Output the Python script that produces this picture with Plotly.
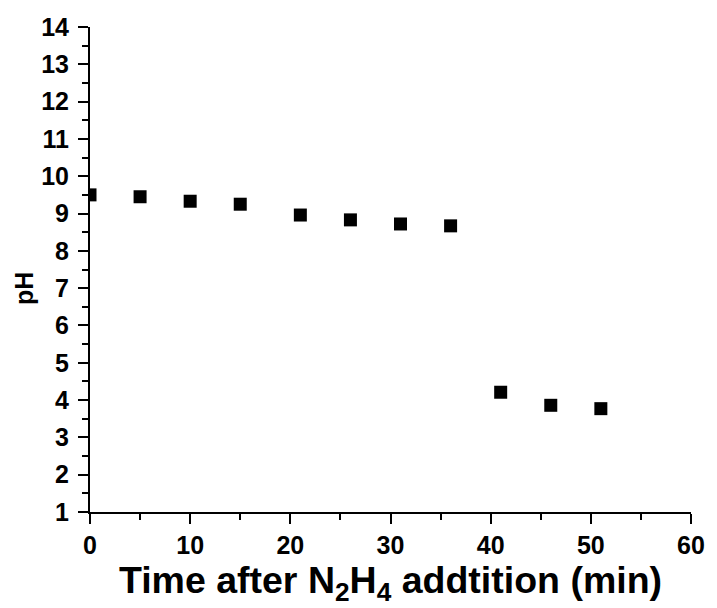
import plotly.graph_objects as go

time_min = [0, 5, 10, 15, 21, 26, 31, 36, 41, 46, 51]
ph_values = [9.5, 9.45, 9.33, 9.25, 8.96, 8.83, 8.72, 8.67, 4.21, 3.86, 3.77]

x_title = "Time after N<sub>2</sub>H<sub>4</sub> addtition (min)"
y_title = "pH"

FONT = "Arial, 'Liberation Sans', sans-serif"

fig = go.Figure()
fig.add_trace(go.Scatter(
    x=time_min, y=ph_values, mode="markers",
    marker=dict(symbol="square", size=13, color="black", line=dict(width=0)),
    cliponaxis=True, showlegend=False,
))

axis_common = dict(
    showline=True, linecolor="black", linewidth=2,
    ticks="outside", ticklen=10, tickwidth=2, tickcolor="black",
    showgrid=False, zeroline=False, mirror=False,
    tickfont=dict(family=FONT, size=25, color="black", weight="bold"),
)

fig.update_xaxes(
    range=[0, 60], dtick=10, tick0=0,
    minor=dict(ticks="outside", ticklen=6, tickwidth=2, tickcolor="black", dtick=5, showgrid=False),
    title=dict(text=x_title, font=dict(family=FONT, size=37.5, color="black", weight="bold"), standoff=4),
    **axis_common,
)
fig.update_yaxes(
    range=[1, 14], dtick=1, tick0=1,
    minor=dict(ticks="outside", ticklen=6, tickwidth=2, tickcolor="black", dtick=0.5, showgrid=False),
    ticklabelstandoff=4,
    **axis_common,
)

fig.add_annotation(
    text=f"<b>{y_title}</b>", xref="paper", yref="y",
    x=-(90 - 23) / 609, y=7, xanchor="center", yanchor="middle",
    textangle=-90, showarrow=False,
    font=dict(family=FONT, size=25, color="black"),
)

fig.update_layout(
    width=717, height=608,
    margin=dict(l=90, r=18, t=27, b=96),
    paper_bgcolor="white", plot_bgcolor="white",
)

fig.write_html("out.html")
